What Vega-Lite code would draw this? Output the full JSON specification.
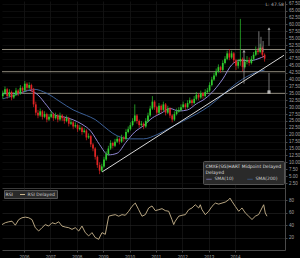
{
  "$schema": "https://vega.github.io/schema/vega-lite/v6.json",
  "background": "#000000",
  "padding": 0,
  "spacing": 0,
  "config": {
    "view": {"stroke": null},
    "font": "DejaVu Sans",
    "axis": {"labelFont": "Liberation Sans", "labelFontSize": 4.5, "labelColor": "#a0a0a0", "domainColor": "#4a4a4a", "tickColor": "#4a4a4a", "gridColor": "#1c1c1c", "gridWidth": 0.6, "title": null, "tickSize": 2, "labelPadding": 1.5, "labelOverlap": false, "labelBound": false}
  },
  "resolve": {"scale": {"color": "independent", "x": "shared"}, "legend": {"color": "independent"}},
  "datasets": {
    "candles": [
      {"t":2005.2,"o":34,"h":36,"l":33,"c":35},{"t":2005.283,"o":35,"h":37.5,"l":34.5,"c":36.5},{"t":2005.367,"o":36.5,"h":37,"l":33,"c":34},{"t":2005.45,"o":34,"h":36.5,"l":33.5,"c":35.5},{"t":2005.533,"o":35.5,"h":36,"l":32.5,"c":33.5},{"t":2005.617,"o":33.5,"h":35.5,"l":33,"c":34.5},{"t":2005.7,"o":34.5,"h":37,"l":34,"c":36},{"t":2005.783,"o":36,"h":36.5,"l":34,"c":35},{"t":2005.867,"o":35,"h":38,"l":34.5,"c":37},{"t":2005.95,"o":37,"h":37.5,"l":35,"c":36},
      {"t":2006.033,"o":36,"h":39.5,"l":35.5,"c":38.5},{"t":2006.117,"o":38.5,"h":39,"l":36,"c":37},{"t":2006.2,"o":37,"h":39,"l":36.5,"c":38},{"t":2006.283,"o":38,"h":38.5,"l":35.5,"c":36.5},{"t":2006.367,"o":36.5,"h":37,"l":30,"c":31},{"t":2006.45,"o":31,"h":32,"l":27,"c":28},{"t":2006.533,"o":28,"h":29,"l":26,"c":27},{"t":2006.617,"o":27,"h":29.5,"l":26.5,"c":28.5},{"t":2006.7,"o":28.5,"h":29,"l":25.5,"c":26.5},{"t":2006.783,"o":26.5,"h":28.5,"l":26,"c":27.5},{"t":2006.867,"o":27.5,"h":28,"l":24.5,"c":25.5},{"t":2006.95,"o":25.5,"h":27.5,"l":25,"c":26.5},
      {"t":2007.033,"o":26.5,"h":28.5,"l":26,"c":27.5},{"t":2007.117,"o":27.5,"h":28,"l":25,"c":26},{"t":2007.2,"o":26,"h":28,"l":25.5,"c":27},{"t":2007.283,"o":27,"h":27.5,"l":24.5,"c":25.5},{"t":2007.367,"o":25.5,"h":28,"l":25,"c":27},{"t":2007.45,"o":27,"h":27.5,"l":25,"c":26},{"t":2007.533,"o":26,"h":26.5,"l":24,"c":25},{"t":2007.617,"o":25,"h":27,"l":24.5,"c":26},{"t":2007.7,"o":26,"h":26.5,"l":23,"c":24},{"t":2007.783,"o":24,"h":25.5,"l":23.5,"c":24.5},{"t":2007.867,"o":24.5,"h":25,"l":22,"c":23},{"t":2007.95,"o":23,"h":24.5,"l":22.5,"c":23.5},
      {"t":2008.033,"o":23.5,"h":24,"l":21,"c":22},{"t":2008.117,"o":22,"h":23.5,"l":21.5,"c":22.5},{"t":2008.2,"o":22.5,"h":23,"l":20,"c":21},{"t":2008.283,"o":21,"h":22.5,"l":20.5,"c":21.5},{"t":2008.367,"o":21.5,"h":22,"l":18,"c":19},{"t":2008.45,"o":19,"h":20.5,"l":18.5,"c":19.5},{"t":2008.533,"o":19.5,"h":20,"l":15.5,"c":16.5},{"t":2008.617,"o":16.5,"h":17,"l":14,"c":15},{"t":2008.7,"o":15,"h":15.5,"l":11,"c":12},{"t":2008.783,"o":12,"h":12.5,"l":8,"c":9},{"t":2008.867,"o":9,"h":10,"l":5.7,"c":7},{"t":2008.95,"o":7,"h":9.5,"l":6.5,"c":8.5},
      {"t":2009.033,"o":8.5,"h":12,"l":8,"c":11},{"t":2009.117,"o":11,"h":14,"l":10.5,"c":13},{"t":2009.2,"o":13,"h":16,"l":12.5,"c":15},{"t":2009.283,"o":15,"h":18,"l":14.5,"c":17},{"t":2009.367,"o":17,"h":17.5,"l":15,"c":16},{"t":2009.45,"o":16,"h":18.5,"l":15.5,"c":17.5},{"t":2009.533,"o":17.5,"h":19.5,"l":17,"c":18.5},{"t":2009.617,"o":18.5,"h":19,"l":16.5,"c":17.5},{"t":2009.7,"o":17.5,"h":20,"l":17,"c":19},{"t":2009.783,"o":19,"h":19.5,"l":17.5,"c":18.5},{"t":2009.867,"o":18.5,"h":22,"l":18,"c":21},{"t":2009.95,"o":21,"h":23,"l":20.5,"c":22},
      {"t":2010.033,"o":22,"h":24.5,"l":21.5,"c":23.5},{"t":2010.117,"o":23.5,"h":26,"l":23,"c":25},{"t":2010.2,"o":25,"h":31,"l":24.5,"c":27},{"t":2010.283,"o":27,"h":27.5,"l":24,"c":25},{"t":2010.367,"o":25,"h":25.5,"l":22.5,"c":23.5},{"t":2010.45,"o":23.5,"h":25,"l":23,"c":24},{"t":2010.533,"o":24,"h":24.5,"l":22,"c":23},{"t":2010.617,"o":23,"h":26,"l":22.5,"c":25},{"t":2010.7,"o":25,"h":28,"l":24.5,"c":27},{"t":2010.783,"o":27,"h":30.5,"l":26.5,"c":29.5},{"t":2010.867,"o":29.5,"h":34,"l":29,"c":32},{"t":2010.95,"o":32,"h":32.5,"l":29,"c":30},
      {"t":2011.033,"o":30,"h":30.5,"l":27,"c":28},{"t":2011.117,"o":28,"h":31.5,"l":27.5,"c":30.5},{"t":2011.2,"o":30.5,"h":31,"l":28,"c":29},{"t":2011.283,"o":29,"h":32,"l":28.5,"c":31},{"t":2011.367,"o":31,"h":31.5,"l":27,"c":28},{"t":2011.45,"o":28,"h":30.5,"l":27.5,"c":29.5},{"t":2011.533,"o":29.5,"h":30,"l":26,"c":27},{"t":2011.617,"o":27,"h":27.5,"l":24.5,"c":25.5},{"t":2011.7,"o":25.5,"h":28.5,"l":25,"c":27.5},{"t":2011.783,"o":27.5,"h":29.5,"l":27,"c":28.5},{"t":2011.867,"o":28.5,"h":30,"l":28,"c":29},{"t":2011.95,"o":29,"h":31,"l":28.5,"c":30},
      {"t":2012.033,"o":30,"h":32,"l":29.5,"c":31},{"t":2012.117,"o":31,"h":31.5,"l":29,"c":30},{"t":2012.2,"o":30,"h":32.5,"l":29.5,"c":31.5},{"t":2012.283,"o":31.5,"h":33.5,"l":31,"c":32.5},{"t":2012.367,"o":32.5,"h":33,"l":30.5,"c":31.5},{"t":2012.45,"o":31.5,"h":34,"l":31,"c":33},{"t":2012.533,"o":33,"h":35.5,"l":32.5,"c":34.5},{"t":2012.617,"o":34.5,"h":35,"l":32.5,"c":33.5},{"t":2012.7,"o":33.5,"h":36,"l":33,"c":35},{"t":2012.783,"o":35,"h":35.5,"l":33,"c":34},{"t":2012.867,"o":34,"h":36.5,"l":33.5,"c":35.5},{"t":2012.95,"o":35.5,"h":37,"l":35,"c":36},
      {"t":2013.033,"o":36,"h":39,"l":35.5,"c":38},{"t":2013.117,"o":38,"h":41,"l":37.5,"c":40},{"t":2013.2,"o":40,"h":42.5,"l":39.5,"c":41.5},{"t":2013.283,"o":41.5,"h":44,"l":41,"c":43},{"t":2013.367,"o":43,"h":45.5,"l":42.5,"c":44.5},{"t":2013.45,"o":44.5,"h":45,"l":42.5,"c":43.5},{"t":2013.533,"o":43.5,"h":47,"l":43,"c":46},{"t":2013.617,"o":46,"h":48.5,"l":45.5,"c":47.5},{"t":2013.7,"o":47.5,"h":50.5,"l":47,"c":49.5},{"t":2013.783,"o":49.5,"h":51,"l":47,"c":48},{"t":2013.867,"o":48,"h":50.5,"l":47.5,"c":49.5},{"t":2013.95,"o":49.5,"h":50,"l":46,"c":47},
      {"t":2014.033,"o":47,"h":47.5,"l":43.5,"c":45},{"t":2014.117,"o":45,"h":47.5,"l":44,"c":46.5},{"t":2014.2,"o":46.5,"h":62,"l":45,"c":47.5},{"t":2014.283,"o":47.5,"h":48,"l":43,"c":44.5},{"t":2014.367,"o":44.5,"h":47.5,"l":44,"c":46.5},{"t":2014.45,"o":46.5,"h":48.5,"l":45.5,"c":47},{"t":2014.533,"o":47,"h":48,"l":45,"c":46},{"t":2014.617,"o":46,"h":48.5,"l":45.5,"c":47.5},{"t":2014.7,"o":47.5,"h":50,"l":47,"c":49},{"t":2014.783,"o":49,"h":52,"l":48.5,"c":50.5},{"t":2014.867,"o":50.5,"h":51.5,"l":49,"c":50},{"t":2014.95,"o":50,"h":53,"l":49.5,"c":51.5},
      {"t":2015.033,"o":51.5,"h":52,"l":48,"c":49},{"t":2015.117,"o":49,"h":49.5,"l":46.5,"c":47.58}
    ],
    "ma": [
      {"t":2005.2,"s":"SMA(10)","v":35},{"t":2005.533,"s":"SMA(10)","v":34.9},{"t":2005.867,"s":"SMA(10)","v":35.2},{"t":2006.2,"s":"SMA(10)","v":36.1},{"t":2006.533,"s":"SMA(10)","v":34.4},{"t":2006.867,"s":"SMA(10)","v":30.6},{"t":2007.2,"s":"SMA(10)","v":27},{"t":2007.533,"s":"SMA(10)","v":26.4},{"t":2007.867,"s":"SMA(10)","v":25.4},{"t":2008.2,"s":"SMA(10)","v":23.8},{"t":2008.533,"s":"SMA(10)","v":21.3},{"t":2008.867,"s":"SMA(10)","v":16.4},{"t":2009.2,"s":"SMA(10)","v":12.7},{"t":2009.533,"s":"SMA(10)","v":13.3},{"t":2009.867,"s":"SMA(10)","v":17.3},{"t":2010.2,"s":"SMA(10)","v":21},{"t":2010.533,"s":"SMA(10)","v":23.3},{"t":2010.867,"s":"SMA(10)","v":26.1},{"t":2011.2,"s":"SMA(10)","v":27.8},{"t":2011.533,"s":"SMA(10)","v":29.5},{"t":2011.867,"s":"SMA(10)","v":28.6},{"t":2012.2,"s":"SMA(10)","v":29},{"t":2012.533,"s":"SMA(10)","v":31.2},{"t":2012.867,"s":"SMA(10)","v":33.1},{"t":2013.2,"s":"SMA(10)","v":36.1},{"t":2013.533,"s":"SMA(10)","v":40.2},{"t":2013.867,"s":"SMA(10)","v":45.3},{"t":2014.2,"s":"SMA(10)","v":47},{"t":2014.533,"s":"SMA(10)","v":46.8},{"t":2014.867,"s":"SMA(10)","v":47.5},{"t":2015.117,"s":"SMA(10)","v":48.5},
      {"t":2005.2,"s":"SMA(200)","v":33},{"t":2005.867,"s":"SMA(200)","v":35},{"t":2006.367,"s":"SMA(200)","v":36.5},{"t":2006.867,"s":"SMA(200)","v":35},{"t":2007.367,"s":"SMA(200)","v":32},{"t":2007.867,"s":"SMA(200)","v":29},{"t":2008.367,"s":"SMA(200)","v":27},{"t":2008.7,"s":"SMA(200)","v":25.5},{"t":2009.033,"s":"SMA(200)","v":23},{"t":2009.367,"s":"SMA(200)","v":20.5},{"t":2009.7,"s":"SMA(200)","v":19},{"t":2010.033,"s":"SMA(200)","v":18.5},{"t":2010.533,"s":"SMA(200)","v":18.5},{"t":2011.033,"s":"SMA(200)","v":20},{"t":2011.533,"s":"SMA(200)","v":22.5},{"t":2012.033,"s":"SMA(200)","v":25},{"t":2012.533,"s":"SMA(200)","v":27.5},{"t":2013.033,"s":"SMA(200)","v":30.5},{"t":2013.533,"s":"SMA(200)","v":34.5},{"t":2014.033,"s":"SMA(200)","v":38.5},{"t":2014.533,"s":"SMA(200)","v":41.5},{"t":2015.117,"s":"SMA(200)","v":43.5}
    ],
    "levels": [
      {"p":50.9,"label":"Next resistance @ 50.75"},
      {"p":42.85,"label":"Next support @ 42.80"},
      {"p":35.0,"label":"Next default level @ 35.00"}
    ],
    "trend": [{"t1":2008.958,"p1":6.5,"t2":2015.85,"p2":48.8}],
    "arrows": [
      {"t":2014.337,"p1":38.5,"p2":50.5},
      {"t":2015.284,"p1":52.2,"p2":58.7},
      {"t":2015.284,"p1":42.4,"p2":35.8},
      {"t":2014.9,"p1":50.5,"p2":57.5},
      {"t":2014.98,"p1":51,"p2":55.5},
      {"t":2015.06,"p1":50,"p2":54}
    ],
    "heads": [
      {"t":2014.337,"p":50.3,"shape":"triangle-up","col":"#bbbbbb"},
      {"t":2015.284,"p":58.5,"shape":"triangle-up","col":"#bbbbbb"},
      {"t":2015.284,"p":35.5,"shape":"square","col":"#ffffff"}
    ],
    "notes": [
      {"t":2015.85,"p":67.0,"text":"L: 47.58"}
    ],
    "rsi": [
      {"t":2005.17,"r":41},{"t":2005.295,"r":44},{"t":2005.424,"r":45.5},{"t":2005.549,"r":46.5},{"t":2005.674,"r":40},{"t":2005.803,"r":49},{"t":2005.928,"r":52},{"t":2006.053,"r":53},{"t":2006.181,"r":52},{"t":2006.306,"r":49},{"t":2006.431,"r":36},{"t":2006.56,"r":30.6},{"t":2006.685,"r":36},{"t":2006.81,"r":41},{"t":2006.939,"r":38.6},{"t":2007.064,"r":44},{"t":2007.189,"r":42.3},{"t":2007.318,"r":45.5},{"t":2007.443,"r":38.6},{"t":2007.568,"r":37},{"t":2007.697,"r":36},{"t":2007.822,"r":33.3},{"t":2007.947,"r":36},{"t":2008.075,"r":30.6},{"t":2008.2,"r":38.6},{"t":2008.325,"r":28},{"t":2008.454,"r":22.7},{"t":2008.579,"r":28},{"t":2008.704,"r":20},{"t":2008.833,"r":17.3},{"t":2008.958,"r":28},{"t":2009.083,"r":25.3},{"t":2009.212,"r":54.5},{"t":2009.337,"r":56},{"t":2009.462,"r":57},{"t":2009.59,"r":54.5},{"t":2009.715,"r":57},{"t":2009.84,"r":56},{"t":2009.969,"r":62.5},{"t":2010.094,"r":70.4},{"t":2010.219,"r":75.7},{"t":2010.348,"r":65},{"t":2010.473,"r":54.5},{"t":2010.598,"r":57},{"t":2010.727,"r":67.8},{"t":2010.852,"r":71},{"t":2010.977,"r":63.5},{"t":2011.106,"r":65},{"t":2011.231,"r":66.7},{"t":2011.356,"r":63.5},{"t":2011.484,"r":62.5},{"t":2011.609,"r":49},{"t":2011.674,"r":41},{"t":2011.734,"r":46.5},{"t":2011.863,"r":54.5},{"t":2011.988,"r":56},{"t":2012.113,"r":57},{"t":2012.242,"r":65},{"t":2012.367,"r":67.8},{"t":2012.492,"r":73},{"t":2012.621,"r":67.8},{"t":2012.681,"r":73},{"t":2012.746,"r":65},{"t":2012.871,"r":57},{"t":2013.0,"r":62.5},{"t":2013.125,"r":70.4},{"t":2013.25,"r":75.7},{"t":2013.378,"r":74},{"t":2013.503,"r":75.7},{"t":2013.628,"r":77.3},{"t":2013.757,"r":81},{"t":2013.806,"r":83.7},{"t":2013.882,"r":78.4},{"t":2014.007,"r":70.4},{"t":2014.136,"r":62.5},{"t":2014.197,"r":65},{"t":2014.261,"r":67.8},{"t":2014.386,"r":59.8},{"t":2014.515,"r":54.5},{"t":2014.64,"r":49.2},{"t":2014.765,"r":54.5},{"t":2014.893,"r":57.2},{"t":2015.018,"r":67.8},{"t":2015.083,"r":73},{"t":2015.143,"r":59.8},{"t":2015.208,"r":54.5}
    ]
  },
  "vconcat": [
    {
      "width": 283,
      "height": 187,
      "encoding": {
        "x": {"field": "t", "type": "quantitative", "scale": {"domain": [2005.17, 2015.89], "nice": false, "zero": false}, "axis": {"values": [2006,2007,2008,2009,2010,2011,2012,2013,2014], "tickCount": 100, "labels": false, "ticks": false, "domain": true, "domainColor": "#3a3a3a", "grid": true}}
      },
      "layer": [
        {
          "data": {"name": "levels"},
          "mark": {"type": "rule", "color": "#b3ac9c", "strokeWidth": 0.8},
          "encoding": {
            "x": null,
            "y": {"field": "p", "type": "quantitative", "scale": {"domain": [0.69, 68.48], "nice": false, "zero": false}, "axis": {"orient": "right", "values": [2.5,5,7.5,10,12.5,15,17.5,20,22.5,25,27.5,30,32.5,35,37.5,40,42.5,45,47.5,50,52.5,55,57.5,60,62.5,65,67.5], "tickCount": 100, "format": ".2f", "labelOverlap": false, "grid": true, "gridColor": "#141414", "domainColor": "#4a4a4a"}}
          }
        },
        {
          "data": {"name": "ma"},
          "mark": {"type": "line", "strokeWidth": 1, "interpolate": "monotone"},
          "encoding": {
            "y": {"field": "v", "type": "quantitative"},
            "color": {"field": "s", "type": "nominal", "scale": {"domain": ["SMA(10)", "SMA(200)"], "range": ["#9088d4", "#3b5f96"]},
              "legend": {"orient": "none", "legendX": 201, "legendY": 160, "direction": "horizontal", "title": ["CMXE(SG)HART Midpoint Delayed", "Delayed"], "titleFontSize": 4.5, "titleFontWeight": "normal", "titleColor": "#dddddd", "titleFont": "DejaVu Sans", "labelFont": "DejaVu Sans", "labelFontSize": 4.5, "labelColor": "#cccccc", "fillColor": "#2a2a2a", "strokeColor": "#555555", "padding": 2.5, "symbolType": "stroke", "symbolSize": 30, "symbolStrokeWidth": 1, "columnPadding": 10, "rowPadding": 0, "titlePadding": 1, "labelOffset": 2, "cornerRadius": 1}}
          }
        },
        {
          "data": {"name": "trend"},
          "mark": {"type": "rule", "color": "#d8d8d8", "strokeWidth": 1},
          "encoding": {
            "x": {"field": "t1", "type": "quantitative"},
            "x2": {"field": "t2"},
            "y": {"field": "p1", "type": "quantitative"},
            "y2": {"field": "p2"}
          }
        },
        {
          "data": {"name": "candles"},
          "mark": {"type": "rule", "strokeWidth": 0.7},
          "encoding": {
            "y": {"field": "l", "type": "quantitative"},
            "y2": {"field": "h"},
            "color": {"condition": {"test": "datum.c >= datum.o", "value": "#2ecc2e"}, "value": "#e02424"}
          }
        },
        {
          "data": {"name": "candles"},
          "mark": {"type": "rule", "strokeWidth": 1.7},
          "encoding": {
            "y": {"field": "o", "type": "quantitative"},
            "y2": {"field": "c"},
            "color": {"condition": {"test": "datum.c >= datum.o", "value": "#2ecc2e"}, "value": "#e02424"}
          }
        },
        {
          "data": {"name": "arrows"},
          "mark": {"type": "rule", "color": "#a8a8a8", "strokeWidth": 0.7},
          "encoding": {
            "y": {"field": "p1", "type": "quantitative"},
            "y2": {"field": "p2"}
          }
        },
        {
          "data": {"name": "heads"},
          "mark": {"type": "point", "filled": true, "size": 10},
          "encoding": {
            "y": {"field": "p", "type": "quantitative"},
            "shape": {"field": "shape", "type": "nominal", "scale": null},
            "color": {"field": "col", "type": "nominal", "scale": null}
          }
        },
        {
          "data": {"name": "levels"},
          "mark": {"type": "text", "align": "right", "baseline": "bottom", "fontSize": 4, "color": "#b0b0b0", "dy": -0.5},
          "encoding": {
            "x": {"datum": 2015.85, "type": "quantitative"},
            "y": {"field": "p", "type": "quantitative"},
            "text": {"field": "label"}
          }
        },
        {
          "data": {"name": "notes"},
          "mark": {"type": "text", "align": "right", "baseline": "middle", "fontSize": 4.5, "color": "#b0b0b0"},
          "encoding": {
            "y": {"field": "p", "type": "quantitative"},
            "text": {"field": "text"}
          }
        }
      ]
    },
    {
      "width": 283,
      "height": 62,
      "data": {"name": "rsi"},
      "mark": {"type": "line", "strokeWidth": 0.9, "interpolate": "linear"},
      "encoding": {
        "x": {"field": "t", "type": "quantitative", "scale": {"domain": [2005.17, 2015.89], "nice": false, "zero": false}, "axis": {"values": [2006,2007,2008,2009,2010,2011,2012,2013,2014], "tickCount": 100, "format": "d", "grid": true, "labelPadding": 2, "domainColor": "#4a4a4a"}},
        "y": {"field": "r", "type": "quantitative", "scale": {"domain": [0, 100], "nice": false}, "axis": {"orient": "right", "values": [20, 40, 60, 80], "tickCount": 100, "format": "d", "grid": true, "gridColor": "#262626", "domainColor": "#4a4a4a"}},
        "color": {"datum": "RSI Delayed", "type": "nominal", "scale": {"range": ["#cbb78e"]},
          "legend": {"orient": "none", "legendX": 2, "legendY": 2, "direction": "horizontal", "title": "RSI", "titleOrient": "left", "titleFontSize": 4.5, "titleFontWeight": "normal", "titleColor": "#dddddd", "titleFont": "DejaVu Sans", "labelFont": "DejaVu Sans", "labelFontSize": 4.5, "labelColor": "#cccccc", "fillColor": "#2a2a2a", "strokeColor": "#555555", "padding": 1.5, "symbolType": "stroke", "symbolSize": 25, "symbolStrokeWidth": 1, "titlePadding": 6, "labelOffset": 2}}
      }
    }
  ]
}
